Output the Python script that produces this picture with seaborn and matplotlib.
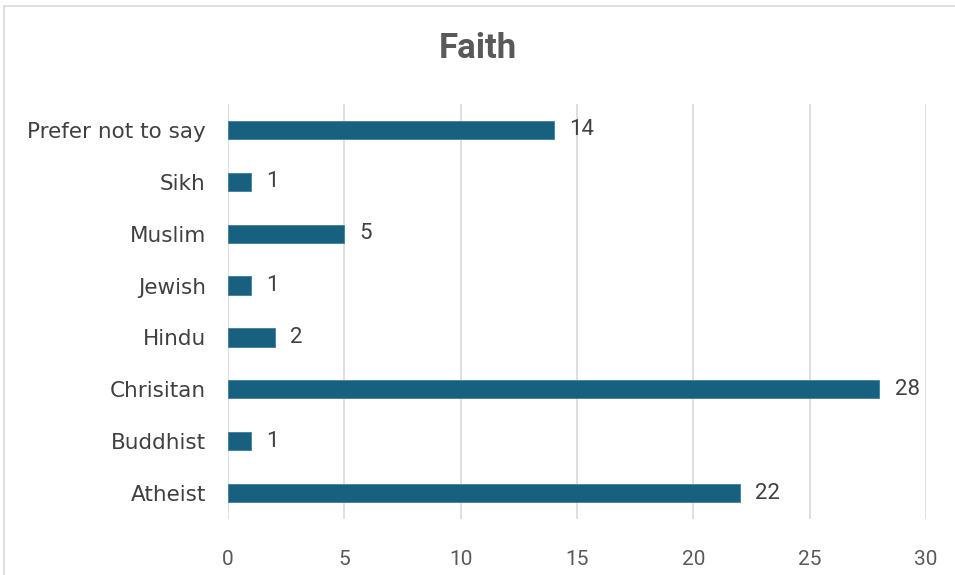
import matplotlib
matplotlib.use("Agg")
import matplotlib.pyplot as plt
import seaborn as sns
import pandas as pd
from matplotlib.patches import Rectangle

categories = ["Prefer not to say", "Sikh", "Muslim", "Jewish", "Hindu",
              "Chrisitan", "Buddhist", "Atheist"]
values = [14, 1, 5, 1, 2, 28, 1, 22]
xticks = [0, 5, 10, 15, 20, 25, 30]

df = pd.DataFrame({"category": categories, "value": values})

sns.set_theme(style="white")
narrow = "Roboto"
plt.rcParams["font.family"] = ["DejaVu Sans"]

fig = plt.figure(figsize=(9.55, 5.75), dpi=100)
ax = fig.add_axes([228/955, 1-519/575, 698/955, 415/575])

sns.barplot(data=df, y="category", x="value", orient="h", color="#18607F",
            width=0.35, saturation=1, ax=ax, edgecolor="#3d7f9c", linewidth=0.6)

ax.set_xlim(0, 30)
ax.set_xticks(xticks)
ax.set_xticklabels([str(t) for t in xticks], fontsize=15, color="#595959",
                   family=narrow)
ax.tick_params(axis="x", length=0, pad=22)
ax.tick_params(axis="y", length=0, pad=16, labelsize=15.5, labelcolor="#404040")
ax.set_xlabel("")
ax.set_ylabel("")
ax.grid(axis="x", color="#d9d9d9", linewidth=1.2)
ax.set_axisbelow(True)
for s in ax.spines.values():
    s.set_visible(False)

for c in ax.containers:
    ax.bar_label(c, padding=11, fontsize=16, color="#404040", family=narrow)

fig.text(0.5, 1-48/575, "Faith", ha="center", va="center", fontsize=25,
         fontweight="bold", color="#595959", family=narrow)

fig.patches.append(Rectangle((4/955, -0.1), 1.2, 1.1 - 6/575, transform=fig.transFigure,
                             fill=False, edgecolor="#d9d9d9", linewidth=1.2))

fig.savefig("out.png", dpi=100)
